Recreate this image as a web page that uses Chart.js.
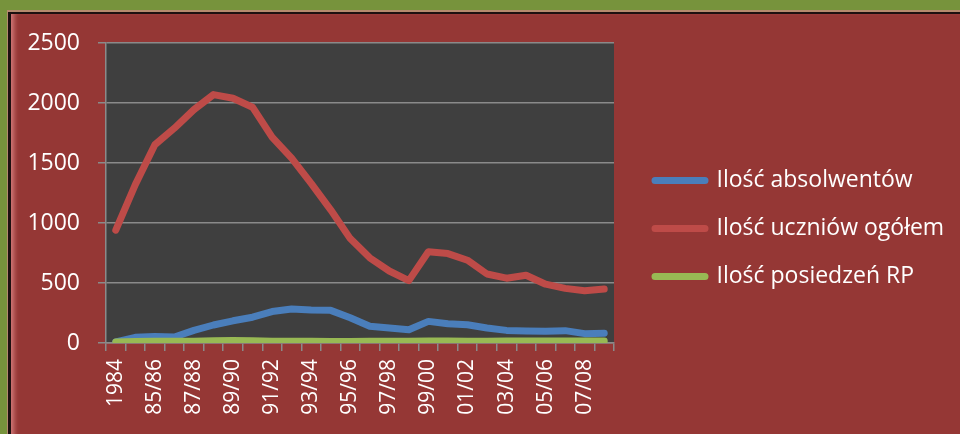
<!DOCTYPE html>
<html>
<head>
<meta charset="utf-8">
<script src="https://cdn.jsdelivr.net/npm/chart.js@4"></script>
<style>
  html, body { margin: 0; padding: 0; }
  body { width: 960px; height: 434px; overflow: hidden; background: #77933c; position: relative; }
  #panel {
    position: absolute; left: 8px; top: 12px; width: 960px; height: 434px;
    background: #953735;
    border-left: 3px solid #1c1010; border-top: 2px solid #1c1010;
    box-shadow: -1px -2px 0 #b58a6e, inset 6px 0 5px -3px rgba(235, 150, 150, 0.7);
  }
  #wrap { position: absolute; left: 0; top: 0; width: 960px; height: 434px; }
</style>
</head>
<body>
<div id="panel"></div>
<div id="wrap"><canvas id="chart" width="960" height="434"></canvas></div>
<script>
const categories = ["1984", "84/85", "85/86", "86/87", "87/88", "88/89", "89/90", "90/91", "91/92",
  "92/93", "93/94", "94/95", "95/96", "96/97", "97/98", "98/99", "99/00", "00/01", "01/02",
  "02/03", "03/04", "04/05", "05/06", "06/07", "07/08", "08/09"];

const seriesNames = ["Ilość absolwentów", "Ilość uczniów ogółem", "Ilość posiedzeń RP"];

const absolwenci = [10, 47, 55, 50, 105, 150, 185, 215, 262, 283, 275, 272, 210, 140,
  125, 110, 180, 160, 152, 125, 105, 100, 97, 103, 78, 82];
const uczniowie = [940, 1320, 1652, 1790, 1945, 2070, 2040, 1965, 1715, 1540, 1330, 1110, 870, 710,
  600, 520, 760, 745, 690, 575, 540, 565, 490, 455, 435, 450];
const posiedzenia = [8, 12, 14, 15, 15, 18, 20, 18, 15, 14, 14, 13, 12, 14,
  14, 15, 16, 16, 14, 15, 16, 17, 17, 16, 16, 17];

const yTicks = [0, 500, 1000, 1500, 2000, 2500];
const colors = ["#4a7ebb", "#be4b48", "#98b954"];

const fontFamily = '"Open Sans", "DejaVu Sans", sans-serif';
const legendFont = 23;
const legendPad = 25;
const legendBox = 50;

// legend width, so the plot ends at x=614
const mctx = document.createElement("canvas").getContext("2d");
mctx.font = legendFont + "px " + fontFamily;
const tw = Math.max(...seriesNames.map(s => mctx.measureText(s).width));
const legendW = legendPad + legendBox + legendFont / 2 + tw + 10;
const padRight = Math.max(0, 960 - 630 - legendW);
const gapW = Math.max(0, 960 - padRight - legendW - 614);

const plotBg = {
  id: "plotBg",
  beforeDraw(chart) {
    const a = chart.chartArea;
    const ctx = chart.ctx;
    ctx.save();
    ctx.fillStyle = "#3f3f3f";
    ctx.fillRect(a.left, a.top, a.right - a.left, a.bottom - a.top);
    ctx.restore();
  }
};

function lineSet(i, data, order) {
  return {
    label: seriesNames[i],
    data: data,
    borderColor: colors[i],
    backgroundColor: colors[i],
    borderWidth: 7,
    borderCapStyle: "round",
    borderJoinStyle: "round",
    pointRadius: 0,
    tension: 0,
    fill: false,
    order: order
  };
}

const ctx = document.getElementById("chart").getContext("2d");
new Chart(ctx, {
  type: "line",
  data: {
    labels: categories,
    datasets: [
      lineSet(0, absolwenci, 2),
      lineSet(1, uczniowie, 1),
      lineSet(2, posiedzenia, 0)
    ]
  },
  options: {
    responsive: false,
    animation: false,
    layout: { padding: { left: 0, top: 43, right: padRight, bottom: 20 } },
    plugins: {
      tooltip: { enabled: false },
      legend: {
        position: "right",
        maxWidth: 420,
        labels: {
          color: "#ffffff",
          font: { family: fontFamily, size: legendFont },
          boxWidth: legendBox,
          boxHeight: 0,
          padding: legendPad,
          sort: (a, b) => a.datasetIndex - b.datasetIndex
        }
      }
    },
    scales: {
      x: {
        offset: true,
        grid: { drawOnChartArea: false, drawTicks: true, tickLength: 8, offset: true, color: "#8a8a8a", lineWidth: 1.5 },
        border: { color: "#8a8a8a", width: 1.5 },
        ticks: {
          color: "#ffffff",
          font: { family: fontFamily, size: 21 },
          autoSkip: false,
          minRotation: 90,
          maxRotation: 90,
          padding: 8,
          callback: function (v, i) { return i % 2 === 0 ? categories[i] : ""; }
        },
        afterFit: s => { s.height = 71; }
      },
      y: {
        min: 0,
        max: 2500,
        afterBuildTicks: s => { s.ticks = yTicks.map(v => ({ value: v })); },
        grid: { color: "#8a8a8a", lineWidth: 1.5, tickLength: 8 },
        border: { color: "#8a8a8a", width: 1.5 },
        ticks: {
          color: "#ffffff",
          font: { family: fontFamily, size: 23 },
          padding: 18,
          callback: v => String(v)
        },
        afterFit: s => { s.width = 106; }
      },
      gap: {
        type: "linear",
        position: "right",
        display: true,
        grid: { display: false },
        border: { display: false },
        ticks: { display: false },
        afterFit: s => { s.width = gapW; }
      }
    }
  },
  plugins: [plotBg]
});
</script>
</body>
</html>
